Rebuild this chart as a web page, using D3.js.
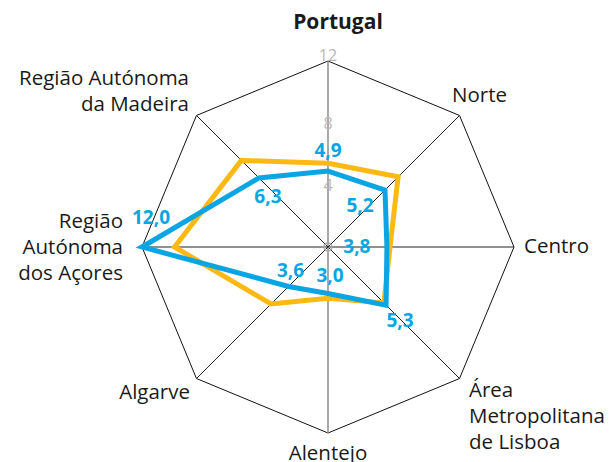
<!DOCTYPE html>
<html>
<head>
<meta charset="utf-8">
<script src="https://cdn.jsdelivr.net/npm/d3@7"></script>
<style>
  body { margin: 0; background: #fff; }
  text { font-family: "Open Sans", "Noto Sans", sans-serif; }
</style>
</head>
<body>
<div id="chart"></div>
<script>
// axes, clockwise from the top
var categories = ["Portugal", "Norte", "Centro", "Área Metropolitana de Lisboa",
                  "Alentejo", "Algarve", "Região Autónoma dos Açores", "Região Autónoma da Madeira"];
var seriesBlue = [4.9, 5.2, 3.8, 5.3, 3.0, 3.6, 12.0, 6.3];
var seriesOrange = [5.4, 6.4, 4.0, 5.1, 3.3, 5.2, 9.9, 7.9];
var blueLabels = ["4,9", "5,2", "3,8", "5,3", "3,0", "3,6", "12,0", "6,3"];
var tickValues = [4, 8, 12];

var width = 612, height = 462;
var cx = 328, cy = 247, radius = 186;

var svg = d3.select("#chart").append("svg")
  .attr("width", width)
  .attr("height", height);

var r = d3.scaleLinear().domain([0, 12]).range([0, radius]);
var angle = d3.scaleLinear().domain([0, categories.length]).range([0, 2 * Math.PI]);

function pt(i, v) {
  var a = angle(i);
  return [cx + r(v) * Math.sin(a), cy - r(v) * Math.cos(a)];
}

var g = svg.append("g");

// outer octagon
var outer = categories.map(function (d, i) { return pt(i, 12); });
g.append("polygon")
  .attr("points", outer.map(function (p) { return p.join(","); }).join(" "))
  .attr("fill", "none")
  .attr("stroke", "#111")
  .attr("stroke-width", 1);

// spokes
g.selectAll(".spoke")
  .data(categories)
  .enter()
  .append("line")
  .attr("class", "spoke")
  .attr("x1", cx).attr("y1", cy)
  .attr("x2", function (d, i) { return pt(i, 12)[0]; })
  .attr("y2", function (d, i) { return pt(i, 12)[1]; })
  .attr("stroke", function (d, i) { return (i % 4 == 0) ? "#8c8c8c" : "#222"; })
  .attr("stroke-width", function (d, i) { return (i % 4 == 0) ? 1.5 : 1; });

g.append("circle")
  .attr("cx", cx).attr("cy", cy).attr("r", 4)
  .attr("fill", "none")
  .attr("stroke", "#aaa")
  .attr("stroke-width", 1.5);

// tick labels on the top axis
g.selectAll(".tick")
  .data(tickValues)
  .enter()
  .append("text")
  .attr("class", "tick")
  .attr("x", cx)
  .attr("y", function (d) { return cy - r(d) + (d == 12 ? -6 : 0); })
  .attr("dy", "0.35em")
  .attr("text-anchor", "middle")
  .style("font-size", "16px")
  .attr("fill", "#b8b8b8")
  .text(function (d) { return d; });

// series lines
var line = d3.line().curve(d3.curveLinearClosed);

g.append("path")
  .attr("d", line(seriesOrange.map(function (v, i) { return pt(i, v); })))
  .attr("fill", "none")
  .attr("stroke", "#fdb913")
  .attr("stroke-width", 5)
  .attr("stroke-linejoin", "miter");

g.append("path")
  .attr("d", line(seriesBlue.map(function (v, i) { return pt(i, v); })))
  .attr("fill", "none")
  .attr("stroke", "#0aa5e2")
  .attr("stroke-width", 5)
  .attr("stroke-linejoin", "miter");

// value labels (offset from the point)
var valOffset = [[0, -21], [-25, 15], [-30, -1], [14, 15], [2, -18], [2, -16], [9, -30], [9, 18]];
g.selectAll(".val")
  .data(seriesBlue)
  .enter()
  .append("text")
  .attr("class", "val")
  .attr("x", function (d, i) { return pt(i, d)[0] + valOffset[i][0]; })
  .attr("y", function (d, i) { return pt(i, d)[1] + valOffset[i][1]; })
  .attr("dy", "0.35em")
  .attr("text-anchor", "middle")
  .style("font-size", "19px")
  .style("font-weight", "bold")
  .attr("fill", "#0aa5e2")
  .text(function (d, i) { return blueLabels[i]; });

// category labels
var catLines = [
  ["Portugal"],
  ["Norte"],
  ["Centro"],
  ["Área", "Metropolitana", "de Lisboa"],
  ["Alentejo"],
  ["Algarve"],
  ["Região", "Autónoma", "dos Açores"],
  ["Região Autónoma", "da Madeira"]
];
var catPos = [
  {x: 338, y: 22, anchor: "middle"},
  {x: 452, y: 95, anchor: "start"},
  {x: 524, y: 246, anchor: "start"},
  {x: 469, y: 390, anchor: "start"},
  {x: 328, y: 453, anchor: "middle"},
  {x: 190, y: 392, anchor: "end"},
  {x: 123, y: 221, anchor: "end"},
  {x: 189, y: 78, anchor: "end"}
];

categories.forEach(function (c, i) {
  var t = svg.append("text")
    .attr("x", catPos[i].x)
    .attr("y", catPos[i].y)
    .attr("text-anchor", catPos[i].anchor)
    .style("font-size", i == 0 ? "21px" : "20.5px")
    .style("font-weight", i == 0 ? "bold" : "normal")
    .attr("fill", "#1a1a1a");
  catLines[i].forEach(function (l, j) {
    t.append("tspan")
      .attr("x", catPos[i].x)
      .attr("y", catPos[i].y + j * 26)
      .attr("dy", "0.35em")
      .text(l);
  });
});
</script>
</body>
</html>
